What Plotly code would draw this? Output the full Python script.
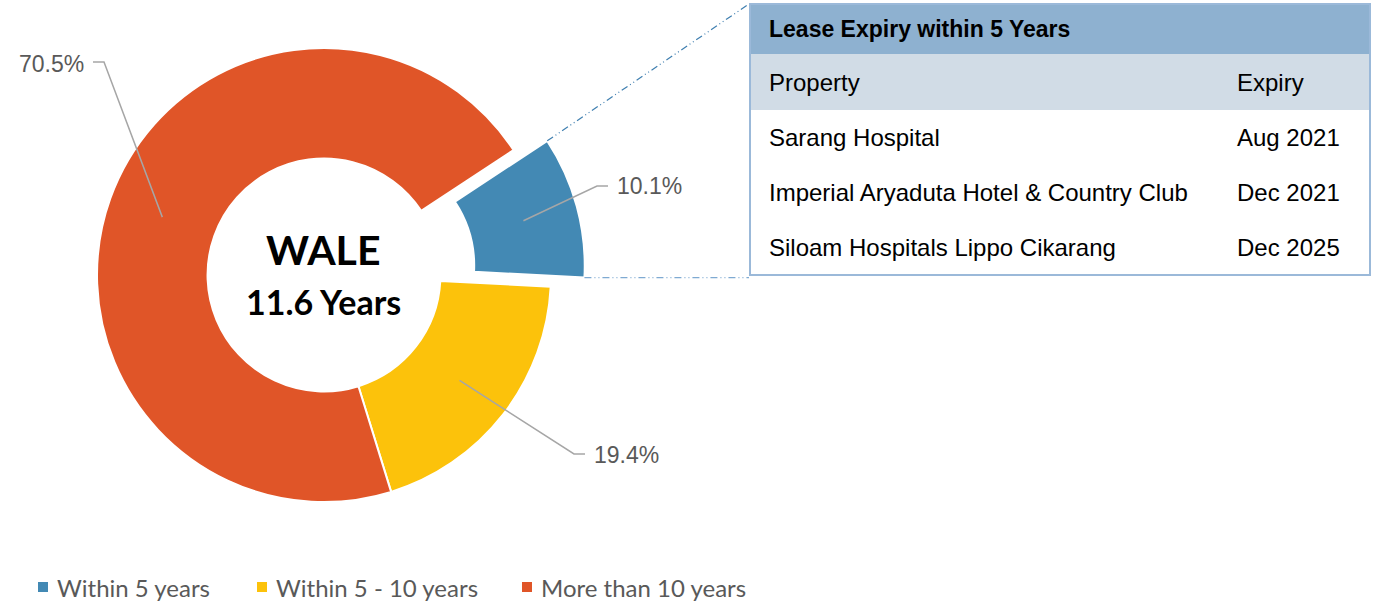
import math
import plotly.graph_objects as go

# --- data -------------------------------------------------------------
categories = ["Within 5 years", "Within 5 - 10 years", "More than 10 years"]
shares = [10.1, 19.4, 70.5]
slice_colors = ["#4389B4", "#FCC20B", "#E05528"]

wale_title = "WALE"
wale_value = "11.6 Years"

table_title = "Lease Expiry within 5 Years"
table_columns = ["Property", "Expiry"]
properties = ["Sarang Hospital", "Imperial Aryaduta Hotel & Country Club",
              "Siloam Hospitals Lippo Cikarang"]
expiries = ["Aug 2021", "Dec 2021", "Dec 2025"]

# --- layout constants (pixels) -----------------------------------------
W, H = 1380, 602
CX, CY = 324, 275      # donut centre
R = 227                # outer radius
HOLE = 0.513
PULL = 0.154
ROTATION = 56.6
GRAY = "#595959"
LEADER = "#A6A6A6"


def px(x):
    return x / W


def py(y):
    return 1 - y / H


def note(x, y, text, size, color="black", family="Liberation Sans", anchor="left"):
    return dict(x=px(x), y=py(y), xref="paper", yref="paper", text=text,
                showarrow=False, xanchor=anchor, yanchor="middle",
                font=dict(family=family, size=size, color=color))


box = R * (1 + PULL)
fig = go.Figure(go.Pie(
    labels=categories, values=shares, sort=False, direction="clockwise",
    rotation=ROTATION, hole=HOLE, pull=[PULL, 0, 0],
    marker=dict(colors=slice_colors, line=dict(color="white", width=2)),
    textinfo="none", hoverinfo="label+percent", showlegend=False,
    domain=dict(x=[px(CX - box), px(CX + box)], y=[py(CY + box), py(CY - box)]),
))

# slice geometry from the data
total = sum(shares)
start = 90 - ROTATION
angles = []
cum = 0
for v in shares:
    a0 = start - cum / total * 360
    a1 = start - (cum + v) / total * 360
    angles.append((a0, a1, (a0 + a1) / 2))
    cum += v


def polar(r, ang, off=0, off_ang=0):
    x = CX + r * math.cos(math.radians(ang)) + off * math.cos(math.radians(off_ang))
    y = CY - r * math.sin(math.radians(ang)) - off * math.sin(math.radians(off_ang))
    return x, y


mid_r = R * (1 + HOLE) / 2
pulls = [PULL * R, 0, 0]

# label positions: (elbow point, end point, text x, text y, anchor)
label_pos = [
    ((597, 186), (608, 186), 615, 186, "left"),
    ((574, 454), (585, 454), 592, 455, "left"),
    ((104, 62), (93, 62), 86, 64, "right"),
]

shapes = []
annotations = []
for i, v in enumerate(shares):
    mid = angles[i][2]
    tx, ty = polar(mid_r, mid, pulls[i], mid)
    (ex, ey), (fx, fy), lx, ly, anc = label_pos[i]
    shapes.append(dict(
        type="path", xref="paper", yref="paper",
        path=f"M {px(tx)},{py(ty)} L {px(ex)},{py(ey)} L {px(fx)},{py(fy)}",
        line=dict(color=LEADER, width=1.5)))
    annotations.append(note(lx, ly, f"{v}%", 23, GRAY, anchor=anc))

# centre text
annotations.append(note(CX - 1, 250, f"<b>{wale_title}</b>", 41, family="Lato", anchor="center"))
annotations.append(note(CX - 1, 301, f"<b>{wale_value}</b>", 34, family="Lato", anchor="center"))

# table
TL, TR, TT = 750, 1370, 4
TITLE_H, HEAD_H, ROW_H = 50, 56, 55
col_x = [767, 1235]
tb = TT + TITLE_H + HEAD_H + ROW_H * len(properties)

shapes.append(dict(type="rect", xref="paper", yref="paper",
                   x0=px(TL), x1=px(TR), y0=py(TT), y1=py(TT + TITLE_H),
                   fillcolor="#8EB1D0", line=dict(width=0), layer="below"))
shapes.append(dict(type="rect", xref="paper", yref="paper",
                   x0=px(TL), x1=px(TR), y0=py(TT + TITLE_H),
                   y1=py(TT + TITLE_H + HEAD_H),
                   fillcolor="#D1DCE6", line=dict(width=0), layer="below"))
shapes.append(dict(type="rect", xref="paper", yref="paper",
                   x0=px(TL), x1=px(TR), y0=py(TT), y1=py(tb),
                   fillcolor="rgba(0,0,0,0)", line=dict(color="#9BB9D9", width=2)))

annotations.append(note(col_x[0], TT + TITLE_H / 2, f"<b>{table_title}</b>", 23))
for j, c in enumerate(table_columns):
    annotations.append(note(col_x[j], TT + TITLE_H + HEAD_H / 2, c, 24))
for i, (p, e) in enumerate(zip(properties, expiries)):
    yc = TT + TITLE_H + HEAD_H + ROW_H * i + ROW_H / 2
    for j, t in enumerate([p, e]):
        annotations.append(note(col_x[j], yc, t, 24))

# dash-dot connectors from the pulled slice to the table
a0, a1, amid = angles[0]
top = polar(R, a0, pulls[0], amid)
bot = polar(R, a1, pulls[0], amid)
shapes.append(dict(type="line", xref="paper", yref="paper",
                   x0=px(top[0]), y0=py(top[1]), x1=px(TL - 1), y1=py(TT),
                   line=dict(color="#3F7FB0", width=1.2, dash="7px,3px,1px,3px,1px,3px")))
shapes.append(dict(type="line", xref="paper", yref="paper",
                   x0=px(bot[0]), y0=py(bot[1]), x1=px(TL - 1), y1=py(bot[1]),
                   line=dict(color="#7FAAD2", width=1.2, dash="7px,3px,1px,3px,1px,3px")))

# legend row (square swatch + label per category)
legend_x = [38, 257, 522]
LEG_Y = 587
for name, col, lx in zip(categories, slice_colors, legend_x):
    shapes.append(dict(type="rect", xref="paper", yref="paper",
                       x0=px(lx), x1=px(lx + 10), y0=py(LEG_Y - 5), y1=py(LEG_Y + 5),
                       fillcolor=col, line=dict(width=0)))
    annotations.append(note(lx + 17, LEG_Y, name, 24, GRAY, family="Lato"))

fig.update_layout(
    width=W, height=H, margin=dict(l=0, r=0, t=0, b=0),
    paper_bgcolor="white", plot_bgcolor="white",
    shapes=shapes, annotations=annotations,
    showlegend=False,
)

fig.write_html("out.html", config={"displayModeBar": False},
               post_script="document.body.style.margin='0';")
